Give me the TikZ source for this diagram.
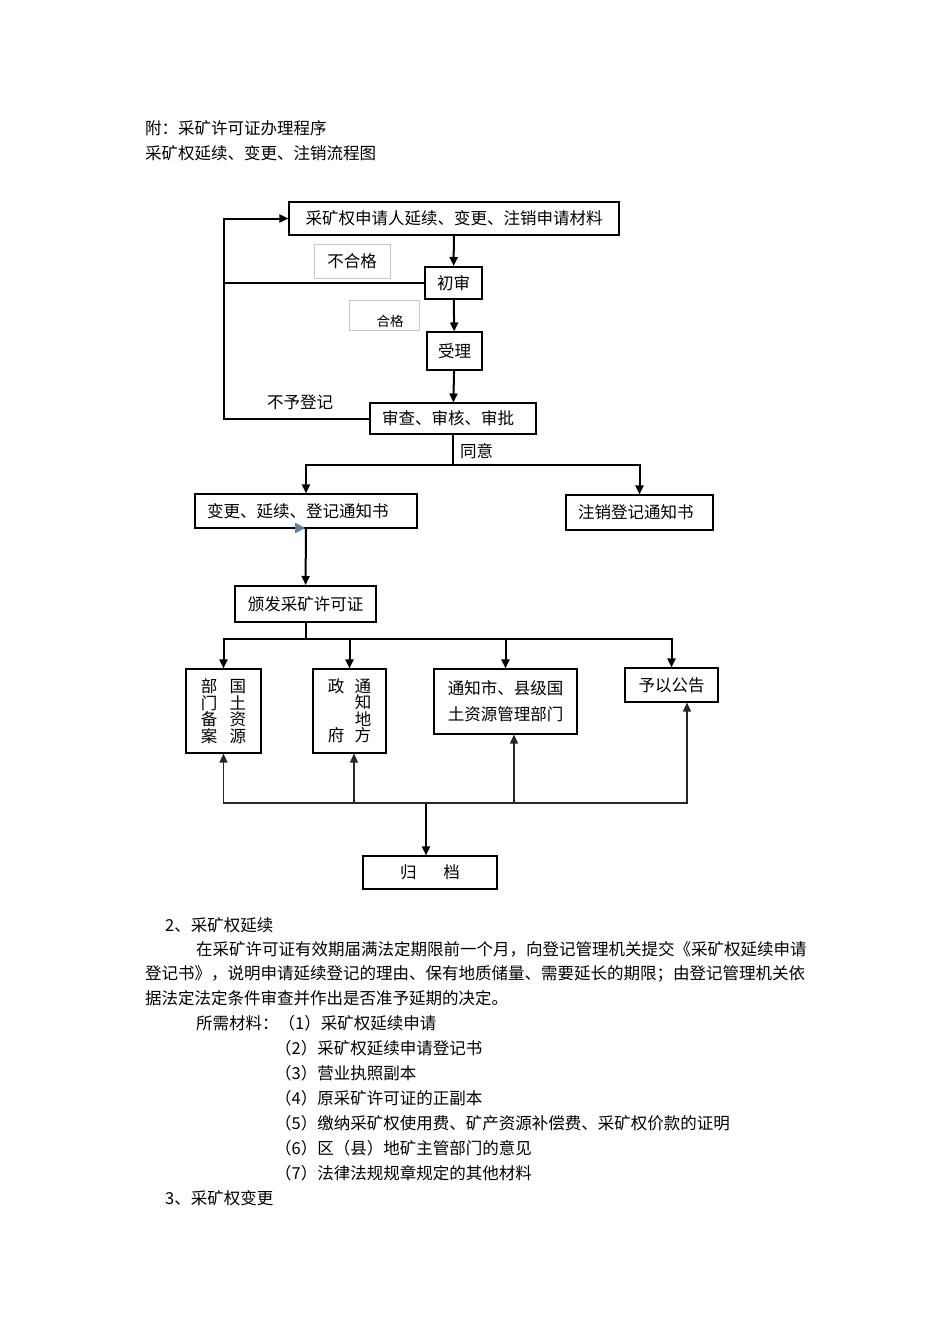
\documentclass[tikz,border=0pt]{standalone}
\usepackage{fontspec}
\setmainfont{Noto Sans CJK SC}
\usetikzlibrary{arrows.meta}
\definecolor{tagline}{RGB}{200,200,200}
\definecolor{tipblue}{RGB}{95,128,168}

\begin{document}
\begin{tikzpicture}[x=1pt,y=-1pt,>={Triangle[length=9pt,width=8pt]},font=\fontsize{16.5}{19}\selectfont]
  \tikzset{box/.style={draw, line width=1.1pt, inner sep=0pt, align=center},
    tag/.style={draw=tagline, line width=0.7pt, inner sep=0pt},
    flow/.style={line width=2pt},
    back/.style={line width=1.4pt, draw=black!85},
    txt/.style={anchor=west, inner sep=0pt}}
  \useasboundingbox (0,0) rectangle (950,1344);

  \node[txt] (head) at (145,128) {附：采矿许可证办理程序};
  \node[txt] (title) at (145,153) {采矿权延续、变更、注销流程图};

  % upper flow
  \node[box, minimum width=330pt, minimum height=33pt] (req) at (454,218.5) {采矿权申请人延续、变更、注销申请材料};
  \node[box, line width=2pt, minimum width=57pt, minimum height=32pt] (chu) at (453.5,283) {初审};
  \node[tag, minimum width=76pt, minimum height=34pt] (bhg) at (352,261) {不合格};
  \node[tag, minimum width=70pt, minimum height=30pt] (hgbox) at (384,315) {};
  \node[font=\fontsize{13.5}{16}\selectfont, inner sep=0pt] (hg) at (390,321) {合格};
  \node[box, minimum width=55pt, minimum height=38pt] (sl) at (454.5,351) {受理};
  \node[box, minimum width=166pt, minimum height=31pt, text width=142pt, align=left] (sc) at (453,418.5) {审查、审核、审批};
  \node[inner sep=0pt] (nodj) at (300,402) {不予登记};
  \node[txt] (ty) at (460,451) {同意};

  \node[box, minimum width=222pt, minimum height=34pt, text width=198pt, align=left] (bg) at (306,511) {变更、延续、登记通知书};
  \node[box, minimum width=147pt, minimum height=35pt, text width=123pt, align=left] (zx) at (639.5,512.5) {注销登记通知书};
  \node[box, line width=2pt, minimum width=141pt, minimum height=36pt] (bf) at (305.5,604) {颁发采矿许可证};

  % lower row
  \node[box, minimum width=75pt, minimum height=84pt, font=\fontsize{16.5}{16.5}\selectfont] (gt) at (223.5,711)
    {部\hspace{12.5pt}国\\门\hspace{12.5pt}土\\备\hspace{12.5pt}资\\案\hspace{12.5pt}源};
  \node[box, minimum width=73pt, minimum height=84pt, font=\fontsize{16.5}{16.5}\selectfont] (df) at (349.5,711)
    {政\hspace{10.5pt}通\\\phantom{政}\hspace{10.5pt}知\\\phantom{政}\hspace{10.5pt}地\\府\hspace{10.5pt}方};
  \node[box, minimum width=143pt, minimum height=65pt, font=\fontsize{16.5}{26}\selectfont] (sx) at (505.5,701.5) {通知市、县级国\\土资源管理部门};
  \node[box, minimum width=93pt, minimum height=34pt] (gg) at (671.5,685) {予以公告};
  \node[box, minimum width=134pt, minimum height=33pt] (gd) at (430,872.5) {归\hspace{27pt}档};

  \coordinate (loop) at (224,300);
  \coordinate (agree) at (453,465);
  \coordinate (issue) at (305.5,639);
  \coordinate (arch) at (426,803);

  \draw[flow,->] (req) -- (chu);
  \draw[flow,->] (chu) -- (sl);
  \draw[flow,->] (sl) -- (sc);
  \draw[flow] (chu.west) -- (chu.west -| loop);
  \draw[flow,->] (sc.west) -| (loop) |- (req.west);
  \draw[flow] (sc) -- (agree);
  \draw[flow,->] (agree) -| (bg);
  \draw[flow,->] (agree) -| (zx);
  \draw[flow,->] (bg) -- (bf);
  \fill[tipblue] (295,522.5) -- (305,528) -- (295,533.5) -- cycle;
  \draw[flow] (bf) -- (issue);
  \draw[flow,->] (issue) -| (gt);
  \draw[flow,->] (issue) -| (df);
  \draw[flow,->] (issue) -| (sx);
  \draw[flow,->] (issue) -| (gg);
  \draw[flow,->] (arch) -- (arch |- gd.north);
  \draw[back,->] (arch) -| (gt);
  \draw[back,->] (arch) -| ([xshift=4.5pt]df.south);
  \draw[back,->] (arch) -| ([xshift=8.5pt]sx.south);
  \draw[back,->] (arch) -| ([xshift=15.5pt]gg.south);

  % text below
  \node[txt] (s2) at (165,925) {2、采矿权延续};
  \node[txt] (p1) at (196,949) {在采矿许可证有效期届满法定期限前一个月，向登记管理机关提交《采矿权延续申请};
  \node[txt] (p2) at (145,974) {登记书》，说明申请延续登记的理由、保有地质储量、需要延长的期限；由登记管理机关依};
  \node[txt] (p3) at (145,998) {据法定法定条件审查并作出是否准予延期的决定。};
  \node[txt] (m1) at (196,1023) {所需材料：（1）采矿权延续申请};
  \node[txt] (m2) at (275,1048) {（2）采矿权延续申请登记书};
  \node[txt] (m3) at (275,1073) {（3）营业执照副本};
  \node[txt] (m4) at (275,1098) {（4）原采矿许可证的正副本};
  \node[txt] (m5) at (275,1123) {（5）缴纳采矿权使用费、矿产资源补偿费、采矿权价款的证明};
  \node[txt] (m6) at (275,1148) {（6）区（县）地矿主管部门的意见};
  \node[txt] (m7) at (275,1173) {（7）法律法规规章规定的其他材料};
  \node[txt] (s3) at (165,1198) {3、采矿权变更};
\end{tikzpicture}
\end{document}
